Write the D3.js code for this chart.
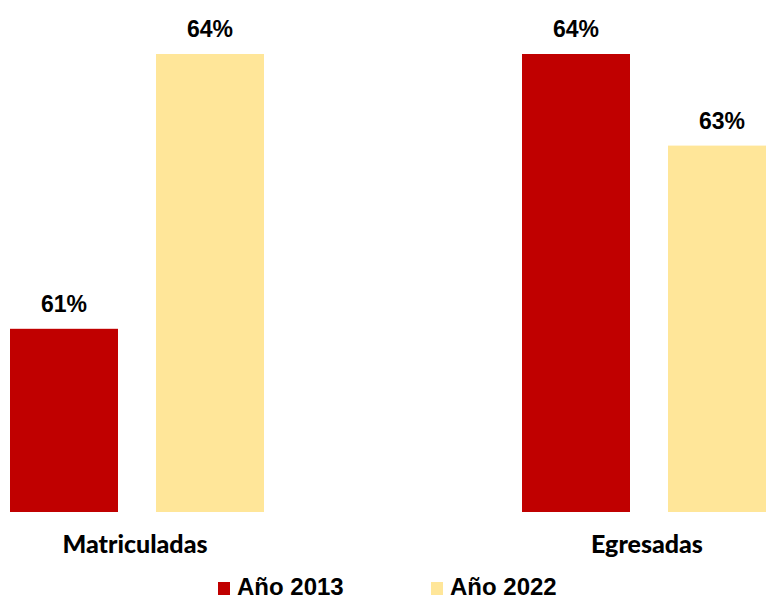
<!DOCTYPE html>
<html><head><meta charset="utf-8">
<script src="https://cdn.jsdelivr.net/npm/d3@7"></script>
<style>html,body{margin:0;padding:0;background:#fff;overflow:hidden}svg{display:block}</style>
</head><body>
<script>
const categories = ["Matriculadas", "Egresadas"];
const seriesNames = ["Año 2013", "Año 2022"];
const values2013 = [61, 64];
const values2022 = [64, 63];
const colors = ["#C00000", "#FFE699"];

const W = 766, H = 599;
const svg = d3.select("body").append("svg").attr("width", W).attr("height", H);

const x0 = d3.scaleBand().domain(categories).range([-119, 905]).padding(0);
const x1 = d3.scaleBand().domain(seriesNames).range([129, 383]).paddingInner(38/146).paddingOuter(0);
const y = d3.scaleLinear().domain([59, 64]).range([512, 54]);

const data = categories.map((c, i) => ({cat: c, vals: [values2013[i], values2022[i]]}));

const g = svg.selectAll("g.cat").data(data).join("g").attr("class", "cat")
  .attr("transform", d => `translate(${x0(d.cat)},0)`);

g.selectAll("rect").data(d => d.vals.map((v, j) => ({s: seriesNames[j], v, j})))
  .join("rect")
  .attr("x", d => x1(d.s)).attr("width", x1.bandwidth())
  .attr("y", d => y(d.v)).attr("height", d => y.range()[0] - y(d.v))
  .attr("fill", d => colors[d.j]);

g.selectAll("text.val").data(d => d.vals.map((v, j) => ({s: seriesNames[j], v, j})))
  .join("text").attr("class", "val")
  .attr("x", d => x1(d.s) + x1.bandwidth()/2)
  .attr("y", d => y(d.v) - 17)
  .attr("text-anchor", "middle")
  .attr("font-family", "Liberation Sans, Arial, sans-serif")
  .attr("font-weight", "bold").attr("font-size", 23)
  .attr("fill", "#000")
  .text(d => d.v + "%");

g.append("text")
  .attr("x", x0.bandwidth()/2 - 2)
  .attr("y", 553)
  .attr("text-anchor", "middle")
  .attr("font-family", "Lato, Carlito, Calibri, sans-serif")
  .attr("font-weight", "900").attr("font-size", 25)
  .attr("fill", "#000")
  .text(d => d.cat);

const legendX = [218, 431];
const lg = svg.selectAll("g.leg").data(seriesNames).join("g").attr("class", "leg")
  .attr("transform", (d, i) => `translate(${legendX[i]},0)`);
lg.append("rect").attr("x", 0).attr("y", 582).attr("width", 12).attr("height", 13)
  .attr("fill", (d, i) => colors[i]);
lg.append("text").attr("x", 19).attr("y", 595)
  .attr("font-family", "Liberation Sans, Arial, sans-serif")
  .attr("font-weight", "bold").attr("font-size", 24)
  .attr("fill", "#000")
  .text(d => d);
</script>
</body></html>
